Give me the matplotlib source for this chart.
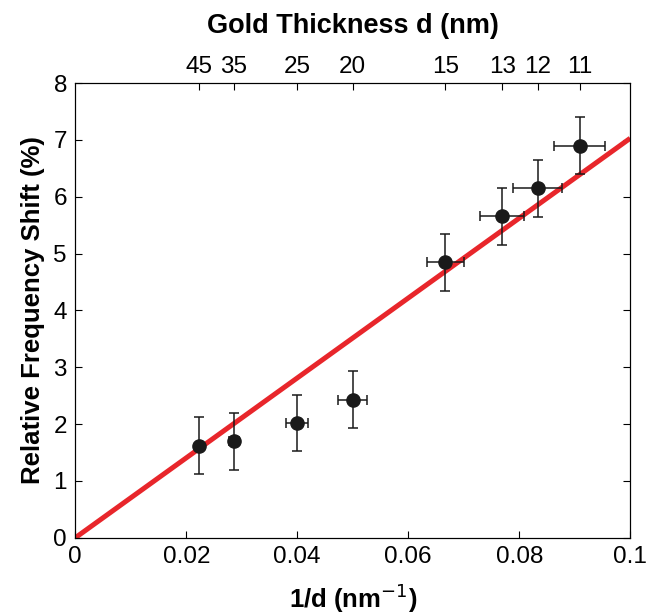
import numpy as np
import matplotlib.pyplot as plt

plt.rcParams['font.family'] = ['Liberation Sans', 'DejaVu Sans']

# gold thickness (nm) and measured data
thickness = [45, 35, 25, 20, 15, 13, 12, 11]
shift = [1.62, 1.70, 2.02, 2.43, 4.85, 5.66, 6.15, 6.90]
shift_err = [0.5, 0.5, 0.5, 0.5, 0.5, 0.5, 0.5, 0.5]
inv_err = [0.0004, 0.0009, 0.002, 0.0026, 0.0033, 0.004, 0.0044, 0.0046]

# linear fit through origin
fit_x = [0.0, 0.1]
fit_y = [0.0, 7.03]

inv_d = 1.0 / np.array(thickness)

fig = plt.figure(figsize=(6.49, 6.16), dpi=100)
ax = fig.add_axes([0.116, 0.127, 0.855, 0.738])

ax.plot(fit_x, fit_y, color='#e8262b', lw=3.6, solid_capstyle='butt', zorder=2)
ax.errorbar(inv_d, shift, xerr=inv_err, yerr=shift_err, fmt='o', color='#1a1a1a',
            ms=9.5, ecolor='#1a1a1a', elinewidth=1.1, capsize=3.5, capthick=1.1, zorder=3)

ax.set_xlim(0, 0.1)
ax.set_ylim(0, 8)
ax.set_xticks([0, 0.02, 0.04, 0.06, 0.08, 0.1])
ax.set_xticklabels(['0', '0.02', '0.04', '0.06', '0.08', '0.1'])
ax.set_yticks(range(0, 9))
ax.tick_params(direction='in', length=5, width=0.8, labelsize=17.5, right=True, pad=6)
for s in ax.spines.values():
    s.set_linewidth(0.8)

ax.set_xlabel('1/d (nm$^{-1}$)', fontsize=18.5, fontweight='bold', labelpad=10)
ax.set_ylabel('Relative Frequency Shift (%)', fontsize=18.5, fontweight='bold', labelpad=6)

top = ax.twiny()
top.set_xlim(ax.get_xlim())
top.set_xticks(inv_d)
top.set_xticklabels([str(t) for t in thickness])
top.tick_params(direction='in', length=5, width=0.8, labelsize=17.5, pad=4)
top.set_xlabel('Gold Thickness d (nm)', fontsize=19.5, fontweight='bold', labelpad=16)

fig.savefig('out.png', dpi=100)
